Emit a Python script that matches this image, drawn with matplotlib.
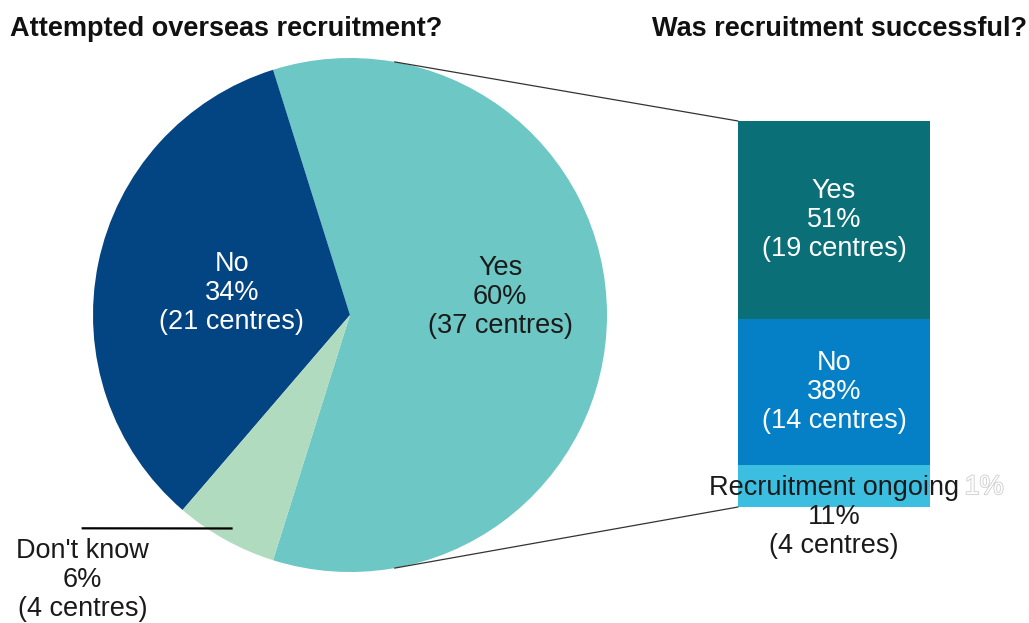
import matplotlib
matplotlib.use('Agg')
import matplotlib.pyplot as plt
import matplotlib.patheffects as pe
from matplotlib.patches import ConnectionPatch
import numpy as np

plt.rcParams['font.family'] = ['Liberation Sans', 'DejaVu Sans']

# attempted overseas recruitment (centres)
pie_labels = ['Yes', 'No', "Don't know"]
pie_counts = [37, 21, 4]
pie_pcts = [60, 34, 6]
pie_colors = ['#6CC7C5', '#034582', '#B1DBBF']

# outcome for the centres that tried
bar_labels = ['Yes', 'No', 'Recruitment ongoing']
bar_counts = [19, 14, 4]
bar_pcts = [51, 38, 11]
bar_colors = ['#0B6F78', '#0580C6', '#3BBEE0']

W, H = 1029, 623
fig = plt.figure(figsize=(W / 100, H / 100), dpi=100)

def px_axes(x0, y0, x1, y1):
    return fig.add_axes([x0 / W, 1 - y1 / H, (x1 - x0) / W, (y1 - y0) / H])

# pie, with the "Yes" wedge centred on the right so it points at the bar
ax = px_axes(93, 58, 607, 572)
yes_angle = pie_counts[0] / sum(pie_counts) * 360
wedges, _ = ax.pie(pie_counts, colors=pie_colors, startangle=-yes_angle / 2,
                   counterclock=True, radius=1,
                   wedgeprops=dict(linewidth=0))
ax.set_xlim(-1, 1)
ax.set_ylim(-1, 1)
ax.set_aspect('equal')
ax.axis('off')

FS = 19.5
lab_kw = dict(ha='center', va='center', fontsize=FS, linespacing=1.15)
ax.text(0.584, 0.07, f'{pie_labels[0]}\n{pie_pcts[0]}%\n({pie_counts[0]} centres)',
        color='#1a1a1a', **lab_kw)
ax.text(-0.46, 0.086, f'{pie_labels[1]}\n{pie_pcts[1]}%\n({pie_counts[1]} centres)',
        color='white', **lab_kw)
ax.text(-1.04, -1.03, f'{pie_labels[2]}\n{pie_pcts[2]}%\n({pie_counts[2]} centres)',
        color='#1a1a1a', clip_on=False, **lab_kw)

# leader line for the small wedge
dk = wedges[2]
mid = np.deg2rad((dk.theta1 + dk.theta2) / 2)
ax.plot([-1.04, 0.95 * np.cos(mid)], [-0.83, 0.95 * np.sin(mid)],
        color='black', lw=1.6, clip_on=False)

# stacked bar
bx = px_axes(738, 121, 930, 507)
bottom = 0
stack = list(zip(bar_labels, bar_counts, bar_pcts, bar_colors))[::-1]
for lab, cnt, pct, col in stack:
    bx.bar(0.5, cnt, width=1, bottom=bottom, color=col, linewidth=0)
    bottom += cnt
bx.set_xlim(0, 1)
bx.set_ylim(0, sum(bar_counts))
bx.axis('off')

total = sum(bar_counts)
y_top = total - bar_counts[0] / 2
bx.text(0.5, y_top, f'{bar_labels[0]}\n{bar_pcts[0]}%\n({bar_counts[0]} centres)',
        color='white', **lab_kw)
y_no = bar_counts[2] + bar_counts[1] / 2
bx.text(0.5, y_no, f'{bar_labels[1]}\n{bar_pcts[1]}%\n({bar_counts[1]} centres)',
        color='white', **lab_kw)
bx.text(0.5, -0.96, f'{bar_labels[2]}\n{bar_pcts[2]}%\n({bar_counts[2]} centres)',
        color='#1a1a1a', clip_on=False, **lab_kw)
# faint leftover label behind the bar
bx.text(1.18, 1.9, '1%', color='white', fontsize=FS, va='center',
        ha='left', clip_on=False,
        path_effects=[pe.withStroke(linewidth=1.2, foreground='#cccccc')])

# connector lines from the pie to the bar
for ang, corner in [(80, (0, 1)), (-80, (0, 0))]:
    a = np.deg2rad(ang)
    con = ConnectionPatch(xyA=(np.cos(a), np.sin(a)), coordsA=ax.transData,
                          xyB=corner, coordsB=bx.transAxes,
                          color='#333333', lw=0.9)
    fig.add_artist(con)

title_kw = dict(fontsize=19.5, fontweight='bold', va='center', color='#111111')
fig.text(10 / W, 1 - 29 / H, 'Attempted overseas recruitment?', ha='left', **title_kw)
fig.text(1027 / W, 1 - 29 / H, 'Was recruitment successful?', ha='right', **title_kw)

plt.savefig('out.png', dpi=100)
plt.close()
